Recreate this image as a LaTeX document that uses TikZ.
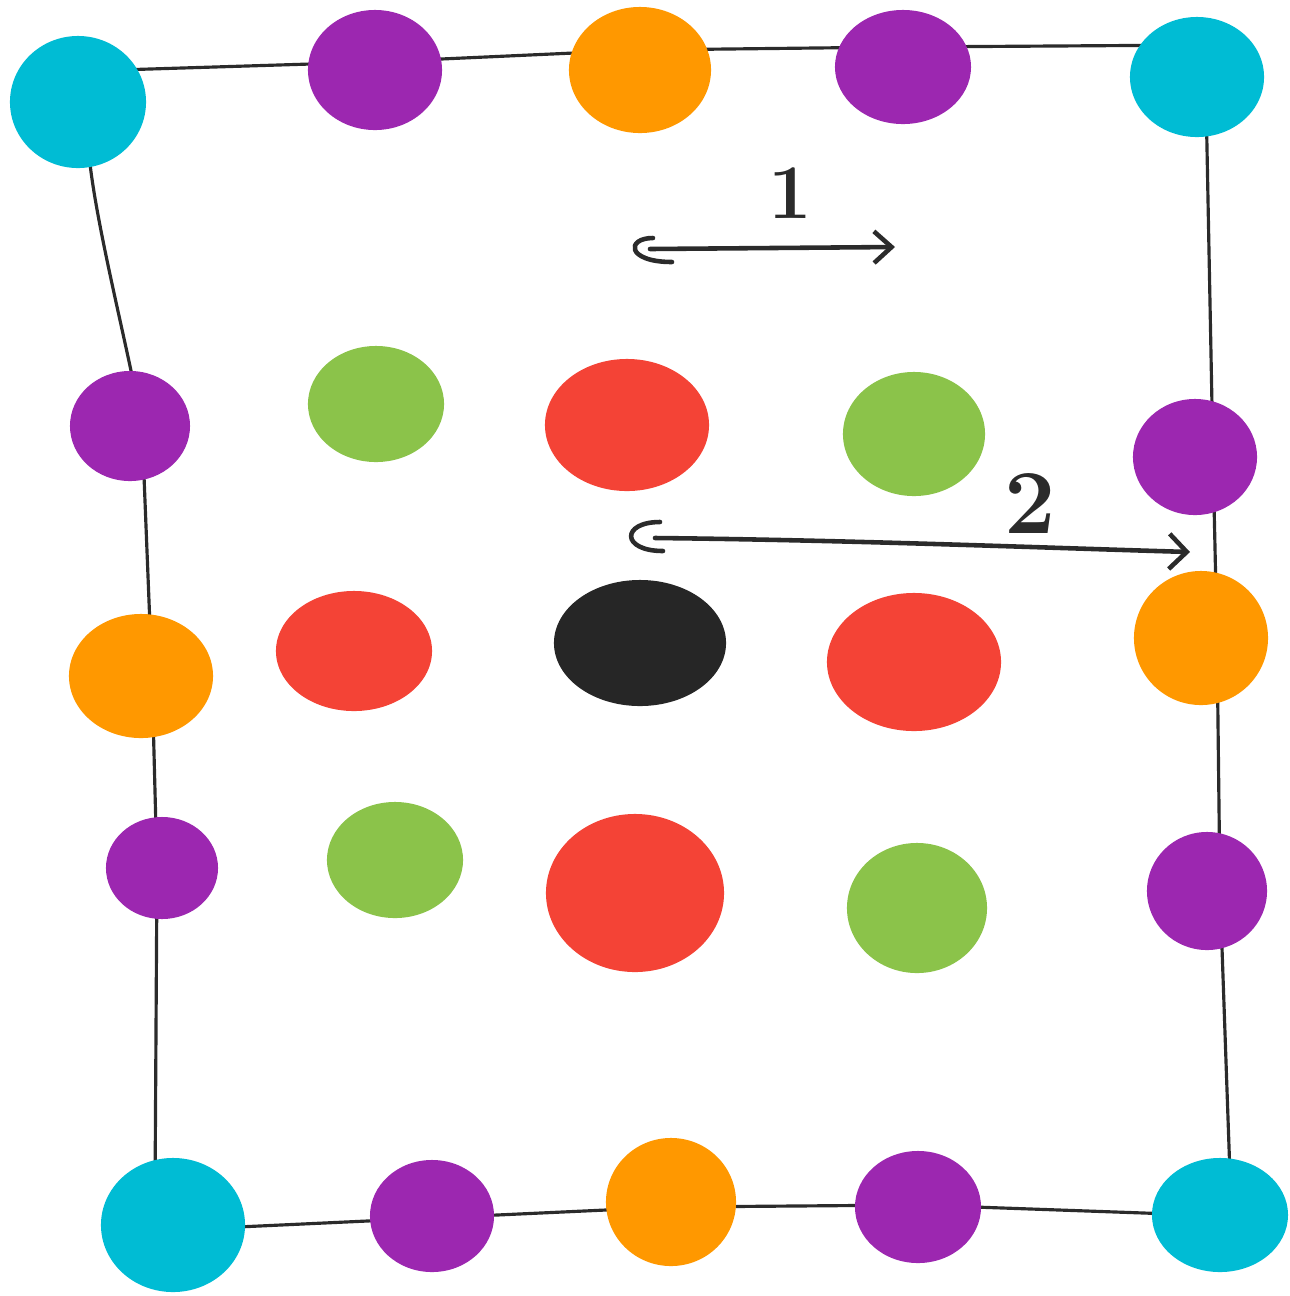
\documentclass[tikz,border=0pt]{standalone}
\usetikzlibrary{shapes.geometric,arrows.meta,calc,backgrounds}
\definecolor{cyanD}{HTML}{00BCD4}
\definecolor{purpD}{HTML}{9C27B0}
\definecolor{orngD}{HTML}{FF9800}
\definecolor{grnD}{HTML}{8BC34A}
\definecolor{redD}{HTML}{F44336}
\definecolor{blkD}{HTML}{262626}
\definecolor{inkD}{HTML}{2B2B2B}
\tikzset{
  blob/.style={ellipse, inner sep=0pt, draw=none},
  cy/.style={blob, fill=cyanD},
  pu/.style={blob, fill=purpD},
  or/.style={blob, fill=orngD},
  gr/.style={blob, fill=grnD},
  rd/.style={blob, fill=redD},
  bk/.style={blob, fill=blkD},
  frameline/.style={draw=inkD, line width=0.9pt, line join=round, line cap=round},
  pen/.style={draw=inkD, line width=1.3pt, line cap=round, line join=round},
  lbl/.style={text=inkD, inner sep=0pt}
}
\begin{document}
\begin{tikzpicture}[x=0.01cm, y=-0.01cm]
\useasboundingbox (0,0) rectangle (1290,1296);
% top row
\node[cy, minimum width=1.36cm, minimum height=1.32cm] (c1) at (78,102) {};
\node[pu, minimum width=1.34cm, minimum height=1.20cm] (p1) at (375,70) {};
\node[or, minimum width=1.42cm, minimum height=1.26cm] (o1) at (640,70) {};
\node[pu, minimum width=1.36cm, minimum height=1.14cm] (p2) at (903,67) {};
\node[cy, minimum width=1.34cm, minimum height=1.20cm] (c2) at (1197,77) {};
% left column
\node[pu, minimum width=1.20cm, minimum height=1.10cm] (lp1) at (130,426) {};
\node[or, minimum width=1.44cm, minimum height=1.24cm] (lo) at (141,676) {};
\node[pu, minimum width=1.12cm, minimum height=1.02cm] (lp2) at (162,868) {};
\node[cy, minimum width=1.44cm, minimum height=1.34cm] (c4) at (173,1225) {};
% bottom row
\node[pu, minimum width=1.24cm, minimum height=1.12cm] (bp1) at (432,1216) {};
\node[or, minimum width=1.30cm, minimum height=1.28cm] (bo) at (671,1202) {};
\node[pu, minimum width=1.26cm, minimum height=1.12cm] (bp2) at (918,1207) {};
\node[cy, minimum width=1.36cm, minimum height=1.14cm] (c3) at (1220,1215) {};
% right column
\node[pu, minimum width=1.24cm, minimum height=1.16cm] (rp1) at (1195,457) {};
\node[or, minimum width=1.34cm, minimum height=1.34cm] (ro) at (1201,638) {};
\node[pu, minimum width=1.20cm, minimum height=1.18cm] (rp2) at (1207,891) {};
% interior
\node[gr, minimum width=1.36cm, minimum height=1.16cm] (g1) at (376,404) {};
\node[rd, minimum width=1.64cm, minimum height=1.32cm] (r1) at (627,425) {};
\node[gr, minimum width=1.42cm, minimum height=1.24cm] (g2) at (914,434) {};
\node[rd, minimum width=1.56cm, minimum height=1.20cm] (r2) at (354,651) {};
\node[bk, minimum width=1.72cm, minimum height=1.26cm] (k) at (640,643) {};
\node[rd, minimum width=1.74cm, minimum height=1.38cm] (r3) at (914,662) {};
\node[gr, minimum width=1.36cm, minimum height=1.16cm] (g3) at (395,860) {};
\node[rd, minimum width=1.78cm, minimum height=1.58cm] (r4) at (635,893) {};
\node[gr, minimum width=1.40cm, minimum height=1.30cm] (g4) at (917,908) {};
% frame behind the dots
\begin{pgfonlayer}{background}
\draw[frameline]
  ($(c1)+(40,-32)$) -- ($(p1)+(0,-8)$) -- ($(o1)+(0,-20)$) -- ($(p2)+(0,-20)$)
  -- ($(c2)+(8,-32)$) -- ($(rp1)+(18,0)$) -- ($(ro)+(16,0)$) -- ($(rp2)+(13,0)$)
  -- ($(c3)+(10,-40)$) -- ($(c3)+(-20,0)$) -- ($(bp2)+(0,-2)$) -- ($(bo)+(0,5)$)
  -- ($(bp1)+(0,2)$) -- ($(c4)+(0,5)$) -- ($(c4)+(-18,-30)$) -- ($(lp2)+(-5,0)$)
  -- ($(lo)+(11,0)$) -- ($(lp1)+(12,0)$)
  .. controls ($(lp1)+(-2,-80)$) and ($(c1)+(14,110)$) .. ($(c1)+(10,40)$);
\end{pgfonlayer}
% arrows
\coordinate (a1s) at (650,249);
\coordinate (a1e) at (895,247);
\coordinate (a2s) at (655,538);
\coordinate (a2e) at (1190,552);
\draw[pen, -{Straight Barb[length=5pt,width=9pt]}] (a1s) -- (a1e);
\draw[pen] ($(a1s)+(3,-11)$) .. controls ($(a1s)+(-24,-11)$) and ($(a1s)+(-24,13)$) .. ($(a1s)+(22,13)$);
\draw[pen, -{Straight Barb[length=5pt,width=10pt]}] (a2s) .. controls (850,540) and (1050,548) .. (a2e);
\draw[pen] ($(a2s)+(5,-16)$) .. controls ($(a2s)+(-34,-16)$) and ($(a2s)+(-34,13)$) .. ($(a2s)+(8,13)$);
% labels
\node[lbl, font=\fontsize{22}{24}\selectfont\bfseries] (l1) at (790,193) {1};
\node[lbl, font=\fontsize{26}{28}\selectfont\bfseries] (l2) at (1030,503) {2};
\end{tikzpicture}
\end{document}
